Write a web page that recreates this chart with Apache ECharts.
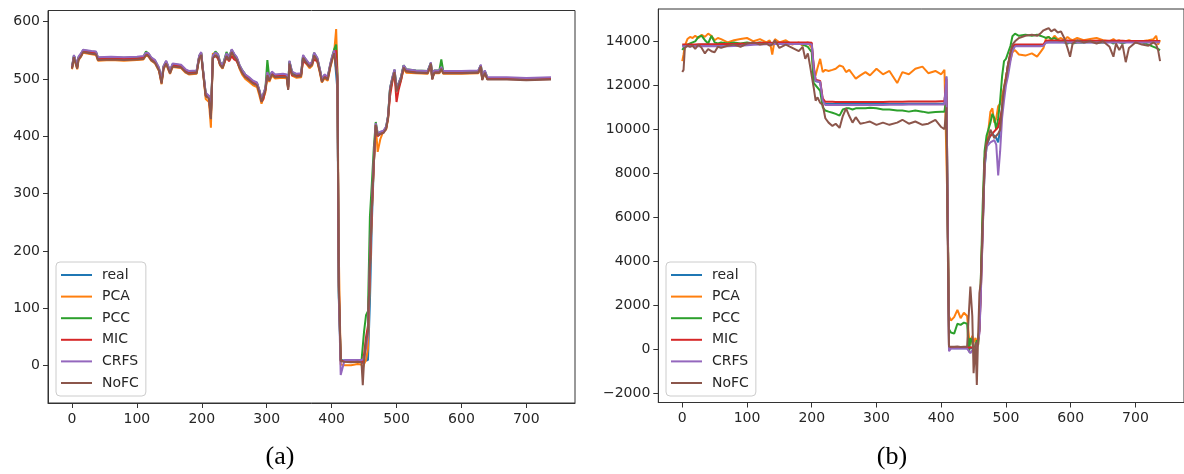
<!DOCTYPE html>
<html><head><meta charset="utf-8">
<script src="https://cdn.jsdelivr.net/npm/echarts@6/dist/echarts.min.js"></script>
<style>html,body{margin:0;padding:0;background:#fff}#c{width:1184px;height:474px}</style>
</head><body><div id="c"></div>
<script>
const names = ['real','PCA','PCC','MIC','CRFS','NoFC'];
const colors = ['#1f77b4','#ff7f0e','#2ca02c','#d62728','#9467bd','#8c564b'];
const xTicks = [0,100,200,300,400,500,600,700];
const yTicksA = [0,100,200,300,400,500,600];
const yTicksB = [-2000,0,2000,4000,6000,8000,10000,12000,14000];
const panelLabels = ['(a)','(b)'];

// ---- panel (a) ----
const xA = [0,3,5,8,10,14,17,20,30,37,
40,60,80,100,110,114,118,122,128,134,
138,141,145,148,151,155,168,175,180,192,
196,199,202,206,211,214,217,221,225,228,
232,235,238,242,246,250,254,258,262,267,
273,279,285,289,292,295,298,301,304,308,
313,325,331,333,335,339,346,353,356,360,
366,370,373,378,382,385,389,394,398,401,
404,407,409,411,414,420,430,440,446,448,
450,453,456,459,462,465,468,471,475,480,
484,487,490,494,497,500,503,507,511,515,
530,548,553,555,558,566,569,572,600,626,
630,632,636,640,670,700,738];
const realA = [520,541,538,522,537,543,549,547,547,546,
536,537,536,537,538,545,543,536,531,518,
497,521,530,533,514,525,523,515,512,513,
539,545,514,474,469,440,539,544,541,528,
522,525,543,536,550,542,536,523,514,506,
501,495,492,478,463,466,483,510,500,511,
506,507,506,486,530,511,507,508,540,533,
524,528,544,535,515,499,506,502,525,538,
548,545,480,120,10,9,9,9,9,8,
8,9,10,110,250,350,415,405,407,409,
416,435,483,503,515,482,491,503,523,516,
514,513,528,502,514,514,519,513,513,514,
524,501,514,502,502,501,502];
const pcaA = [517,537,534,517,533,539,546,543,543,542,
532,533,532,533,534,541,539,532,527,514,
491,517,526,529,509,521,519,511,508,509,
540,545,512,465,460,415,545,542,537,524,
518,521,539,532,546,538,532,518,508,500,
495,489,486,470,457,458,477,505,495,506,
501,502,501,483,525,506,502,503,535,528,
519,523,539,530,510,494,501,497,520,533,
548,587,510,200,2,1,1,3,2,-5,
3,10,30,160,270,350,418,373,395,410,
412,430,478,498,505,480,486,498,518,511,
510,509,524,500,510,510,517,509,509,510,
520,500,510,500,501,500,501];
const pccA = [521,541,539,522,538,544,550,548,548,547,
537,538,537,538,539,548,544,537,532,519,
496,522,531,534,514,526,524,516,513,514,
540,546,514,474,470,436,540,548,543,530,
523,526,547,538,551,543,537,524,516,508,
502,496,493,479,464,467,484,533,502,512,
507,508,507,486,531,512,508,509,541,534,
525,529,546,536,516,500,507,503,526,540,
552,560,505,130,9,8,7,8,8,6,
60,88,95,260,318,380,425,405,407,409,
416,436,484,504,516,483,492,504,524,517,
515,514,528,502,515,515,534,514,513,514,
524,502,514,502,502,501,502];
const micA = [519,539,537,520,536,541,548,546,546,545,
535,536,535,536,537,543,542,535,530,517,
494,520,529,532,512,524,522,514,511,512,
538,543,512,471,467,433,538,540,536,526,
521,524,538,531,540,534,531,521,513,505,
500,494,491,477,461,465,482,509,499,510,
505,506,505,483,524,506,506,507,532,528,
523,527,534,531,514,497,505,501,524,537,
546,550,495,140,9,8,8,8,8,4,
20,50,70,170,270,352,420,400,404,407,
414,433,470,498,508,460,480,498,521,514,
512,511,526,500,512,512,519,511,511,512,
523,499,512,500,500,499,500];
const crfsA = [522,542,540,523,539,545,551,549,549,548,
538,539,538,539,540,546,545,538,533,520,
497,523,532,535,515,527,525,517,514,515,
541,547,515,476,471,438,541,546,543,530,
524,527,545,538,552,544,538,525,516,508,
503,497,494,480,465,468,485,512,502,513,
508,509,508,486,532,513,509,510,542,535,
526,530,546,537,517,500,508,504,527,540,
550,552,505,130,-16,10,10,10,10,8,
12,30,55,190,285,360,423,405,408,410,
417,436,484,505,517,485,492,504,524,517,
515,514,529,503,515,515,521,514,514,515,
525,502,515,503,503,502,503];
const nofcA = [518,538,535,518,534,540,547,544,544,543,
533,534,533,534,535,542,540,533,528,515,
492,518,527,530,510,522,520,512,509,510,
536,542,510,470,466,430,536,541,538,525,
519,522,540,533,547,539,533,520,511,503,
498,492,489,475,460,463,480,507,497,508,
503,504,503,481,527,508,504,505,537,530,
521,525,541,532,512,495,503,499,522,535,
545,548,500,150,8,7,6,7,6,-34,
8,42,60,180,280,355,420,402,404,406,
413,432,480,500,512,478,488,500,520,513,
511,510,527,499,511,511,518,510,510,511,
522,498,511,499,499,498,499];

// ---- panel (b) ----
const xB = [0,2,4,8,12,16,20,25,30,35,
40,45,50,55,60,70,80,90,100,110,
120,130,135,139,143,150,160,170,180,186,
190,194,197,200,203,206,209,213,217,221,
226,232,237,243,248,253,258,263,268,275,
283,290,300,310,320,332,340,350,360,371,
380,391,400,405,408,410,412,415,420,425,
430,435,440,443,445,448,450,453,455,457,
459,461,464,467,470,473,476,479,482,485,
488,491,494,497,500,503,507,510,514,520,
530,540,548,553,558,562,566,570,575,580,
585,590,595,599,603,610,620,630,640,650,
660,666,670,675,680,685,690,700,710,720,
728,732,735,738];
const realB = [13800,13800,13820,13830,13830,13830,13830,13830,13840,13840,
13840,13840,13840,13840,13840,13840,13850,13850,13870,13880,
13880,13880,13880,13900,13900,13900,13900,13900,13900,13900,
13900,13900,13900,13880,12800,12180,12150,12150,11300,11150,
11150,11150,11150,11150,11150,11150,11150,11150,11150,11150,
11150,11150,11150,11150,11150,11150,11150,11160,11160,11160,
11160,11160,11160,11160,12400,6000,50,30,30,30,
30,30,30,30,30,30,30,30,30,30,
900,2500,5500,8200,9200,9500,9700,9800,9700,9600,
9400,10000,11000,11800,12300,12900,13400,13700,13800,13800,
13800,13800,13800,13800,13850,13950,13960,13960,13960,13960,
13960,13960,13960,13960,13960,13960,13960,13960,13960,13960,
13970,13970,13970,13970,13970,13970,13970,13970,13970,13970,
13970,13970,13970,13970];
const pcaB = [13100,13400,13800,14100,14200,14150,14250,14150,14300,14200,
14350,14250,14050,14150,14100,13950,14050,14100,14150,14000,
14100,13950,14050,13400,14100,13950,14050,13850,13950,13800,
13900,13950,13900,13700,12350,12450,12800,13200,12600,12700,
12650,12700,12750,12900,12850,12600,12700,12500,12300,12450,
12600,12450,12750,12500,12650,12100,12600,12500,12750,12850,
12550,12650,12500,12700,12750,6000,1500,1300,1450,1780,
1400,1650,1500,500,200,600,300,500,300,200,
1000,2800,5800,8600,9400,10000,10800,10950,10300,10500,
11050,11150,11200,11900,12400,12800,13170,13500,13600,13400,
13350,13450,13300,13500,13700,14150,14200,14050,14250,14100,
14150,14050,14200,14100,14050,14150,14050,14100,14150,14050,
14000,14100,14000,14050,13950,14000,14050,13950,14000,14050,
14100,14250,13850,14050];
const pccB = [13600,13700,13800,13850,13900,13950,14000,14200,14250,14050,
13900,14250,13950,13900,13950,13900,13950,13900,13950,13900,
13950,13900,13950,13900,13950,13900,13950,13900,13900,13850,
13800,13750,13700,13500,12100,12000,11950,11750,11000,10850,
10800,10750,10700,10620,10900,10950,10950,10900,10950,10950,
10950,10980,10950,10900,10900,10850,10850,10800,10850,10800,
10750,10780,10800,10800,11500,6000,900,750,700,1150,
1100,1200,1150,-150,500,300,-100,200,400,200,
1000,3000,6500,9000,9700,10000,10300,10700,10500,9980,
10500,11300,12400,13100,13200,13250,13800,14230,14350,14250,
14300,14250,14300,14250,14200,14150,14200,14100,14150,14050,
14000,13950,13900,13950,13900,13950,13950,14000,13950,13950,
14000,13900,14000,13950,13900,13950,14000,13950,13950,13850,
13750,13700,13650,13600];
const micB = [13850,13850,13850,13860,13860,13860,13860,13870,13870,13870,
13870,13870,13870,13870,13880,13880,13880,13890,13900,13920,
13930,13930,13940,13940,13940,13950,13950,13950,13950,13950,
13950,13950,13950,13930,12900,12250,12220,12200,11400,11250,
11250,11250,11240,11240,11240,11240,11240,11240,11240,11240,
11240,11240,11240,11240,11250,11250,11250,11260,11260,11260,
11260,11260,11270,11270,12300,6000,80,60,50,60,
50,60,50,60,80,40,60,50,50,60,
800,2400,5300,8400,9300,9600,9700,9800,9900,10000,
10100,10130,10900,11700,12300,12900,13500,13770,13850,13850,
13850,13850,13850,13850,13860,14030,14040,14040,14040,14040,
14040,14040,14040,14030,14030,14030,14030,14030,14020,14020,
14020,14020,14020,14020,14020,14010,14010,14010,14010,14010,
14010,14010,14010,14010];
const crfsB = [13760,13760,13770,13770,13770,13770,13770,13770,13770,13770,
13770,13770,13770,13780,13780,13780,13790,13800,13820,13840,
13860,13870,13870,13870,13880,13880,13880,13880,13880,13880,
13880,13880,13880,13860,12800,12200,12180,12150,11300,11100,
11100,11100,11100,11100,11100,11100,11100,11100,11100,11100,
11100,11100,11100,11100,11110,11110,11110,11120,11120,11120,
11120,11120,11130,11130,12400,6000,-100,20,20,30,
20,20,20,30,-190,-100,20,30,20,20,
700,2300,5200,8300,9200,9300,9400,9450,9500,9300,
7900,9000,10500,11300,12000,12400,13100,13550,13770,13770,
13770,13770,13780,13780,13800,13950,13950,13950,13950,13950,
13950,13950,13950,13950,13950,13950,13950,13950,13950,13950,
13950,13950,13950,13950,13950,13950,13950,13950,13950,13950,
13960,13960,13960,13960];
const nofcB = [12600,12700,13700,13800,13750,13800,13650,13850,13700,13450,
13650,13550,13500,13750,13700,13800,13850,13750,13900,13950,
13850,13900,13800,13850,14050,13700,13850,13700,13550,13750,
13200,13450,12950,12900,11900,11300,11450,11200,11100,10500,
10300,10150,10250,10060,10600,10950,10600,10300,10550,10250,
10300,10350,10200,10300,10200,10300,10430,10250,10350,10200,
10250,10430,10100,10000,11000,5000,100,90,100,110,
90,100,100,1800,2840,1500,-1100,300,-1640,600,
2540,3000,5600,8600,9400,9500,9977,9800,9600,9670,
9800,9977,11000,11900,12300,12900,13470,13850,14000,14150,
14250,14300,14250,14350,14500,14550,14600,14450,14550,14400,
14450,14150,13700,13300,13900,14050,13950,14000,13900,14000,
13750,13300,13900,13600,13850,13050,13700,13950,13850,13800,
13950,13850,13600,13100];

const seriesA = [realA, pcaA, pccA, micA, crfsA, nofcA];
const seriesB = [realB, pcaB, pccB, micB, crfsB, nofcB];

const axisColor = '#333333';
const labelStyle = {color:'#262626', fontSize:14, fontFamily:'DejaVu Sans'};

function xAxisCfg(gi){
  return {type:'value', gridIndex:gi, min:-37, max:775, splitLine:{show:false},
    axisLine:{show:true, onZero:false, lineStyle:{color:axisColor, width:1}},
    axisTick:{show:true, customValues:xTicks, length:5, lineStyle:{color:axisColor, width:1}},
    axisLabel:Object.assign({customValues:xTicks, margin:9}, labelStyle)};
}
function yAxisCfg(gi, min, max, ticks){
  return {type:'value', gridIndex:gi, min:min, max:max, splitLine:{show:false},
    axisLine:{show:true, onZero:false, lineStyle:{color:axisColor, width:1}},
    axisTick:{show:true, customValues:ticks, length:5, lineStyle:{color:axisColor, width:1}},
    axisLabel:Object.assign({customValues:ticks, margin:8,
      formatter:v => String(v).replace('-', '\u2212')}, labelStyle)};
}
function legendCfg(left){
  return {orient:'vertical', left:left, top:262, data:names, icon:'rect',
    itemWidth:31, itemHeight:2, itemGap:5.6, padding:[5,7,5,5],
    borderColor:'#cccccc', borderWidth:1, borderRadius:4,
    backgroundColor:'rgba(255,255,255,0.8)',
    textStyle:{color:'#262626', fontSize:14, fontFamily:'DejaVu Sans', lineHeight:16, padding:[0,0,0,5]}};
}

const series = [];
[ [xA, seriesA, 0], [xB, seriesB, 1] ].forEach(([xs, arrs, gi]) => {
  arrs.forEach((arr, k) => {
    series.push({type:'line', name:names[k], xAxisIndex:gi, yAxisIndex:gi,
      data: xs.map((x, i) => [x, arr[i]]),
      symbol:'none', showSymbol:false, clip:true,
      lineStyle:{width:2, color:colors[k]}, itemStyle:{color:colors[k]},
      emphasis:{disabled:true}});
  });
});

const chart = echarts.init(document.getElementById('c'), null, {renderer:'canvas'});
chart.setOption({
  animation:false,
  backgroundColor:'#ffffff',
  grid:[
    {left:48, top:10.5, width:527, height:392.5, show:true, borderColor:axisColor, borderWidth:1, backgroundColor:'transparent'},
    {left:658.3, top:9, width:528, height:393.5, show:true, borderColor:axisColor, borderWidth:1, backgroundColor:'transparent'}
  ],
  xAxis:[xAxisCfg(0), xAxisCfg(1)],
  yAxis:[yAxisCfg(0, -65, 619.5, yTicksA), yAxisCfg(1, -2434, 15470, yTicksB)],
  legend:[legendCfg(56), legendCfg(666)],
  graphic:[
    {type:'text', x:280, y:457, style:{text:panelLabels[0], fontSize:26, fontFamily:'Liberation Serif', fill:'#000', align:'center', verticalAlign:'middle'}},
    {type:'text', x:892, y:457, style:{text:panelLabels[1], fontSize:26, fontFamily:'Liberation Serif', fill:'#000', align:'center', verticalAlign:'middle'}}
  ],
  series:series
});
</script>
</body></html>
